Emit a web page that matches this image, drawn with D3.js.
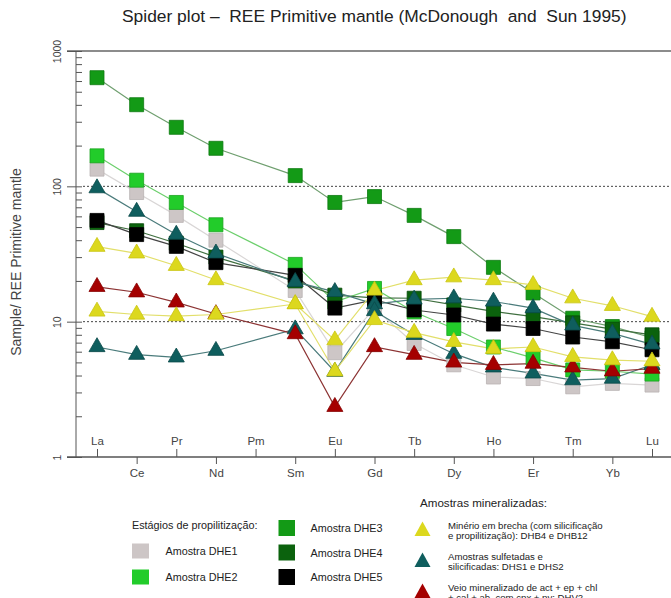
<!DOCTYPE html>
<html>
<head>
<meta charset="utf-8">
<script src="https://cdn.jsdelivr.net/npm/d3@7"></script>
<style>
  body { margin: 0; background: #fff; }
  svg { display: block; font-family: "Liberation Sans", Arial, sans-serif; }
</style>
</head>
<body>
<svg width="671" height="598"></svg>
<script>
// elements along the x axis (Pm has no data)
const elements = ["La", "Ce", "Pr", "Nd", "Pm", "Sm", "Eu", "Gd", "Tb", "Dy", "Ho", "Er", "Tm", "Yb", "Lu"];
const yTicks = [1, 10, 100, 1000];

// normalised values
const DHE1 = [134, 90, 61, 40, null, 17, 5.9, 12.5, 6.9, 4.8, 3.9, 3.8, 3.3, 3.5, 3.4];
const DHE2 = [168, 111, 76, 52, null, 26.5, 14, 17.6, 11.8, 8.9, 6.5, 5.4, 4.4, 4.3, 4.1];
const DHE3 = [635, 401, 273, 191, null, 120, 76, 84, 61, 42.5, 25.2, 16.3, 10.6, 9.2, 7.6];
const DHE4 = [54, 47, 38, 30, null, 20, 15.7, 15, 14.9, 13.3, 11.9, 10.9, 9.8, 8.8, 8.0];
const DHE5 = [56, 44, 36, 27.3, null, 22, 12.6, 14.5, 12.2, 11.2, 9.6, 8.9, 7.7, 7.1, 6.2];
const DHB4 = [35.8, 32, 25.9, 20.3, null, 13.5, 7.3, 17, 20.3, 21.3, 20.3, 18.7, 14.9, 13.1, 10.9];
const DHB12 = [11.9, 11.3, 11.0, 11.3, null, 13.5, 4.3, 10.3, 8.3, 7.1, 6.3, 6.5, 5.5, 5.2, 5.1];
const DHS1 = [97, 65, 44, 32, null, 19.7, 16.6, 13.5, 14.6, 14.9, 14.1, 12.6, 9.4, 8.2, 6.8];
const DHS2 = [6.5, 5.7, 5.45, 6.1, null, 8.8, 4.27, 12, 8.0, 5.8, 4.6, 4.15, 3.7, 3.8, 4.8];
const DHV2 = [18.1, 16.5, 13.9, 11.4, null, 8.1, 2.35, 6.5, 5.7, 5.0, 4.8, 4.9, 4.6, 4.3, 4.5];

// legend texts
const legendLeft = ["Amostra DHE1", "Amostra DHE2"];
const legendMid = ["Amostra DHE3", "Amostra DHE4", "Amostra DHE5"];
const legendRight = [
  ["Minério em brecha (com silicificação", "e propilitização): DHB4 e DHB12"],
  ["Amostras sulfetadas e", "silicificadas: DHS1 e DHS2"],
  ["Veio mineralizado de act + ep + chl", "+ cal + ab, com cpx + py: DHV2"]
];

const style = {
  grey:   { fill: "#cdc6c6", stroke: "#b9b3b3", line: "#d9d6d6" },
  lime:   { fill: "#22cc2a", stroke: "#1aa31f", line: "#6ccf6c" },
  green:  { fill: "#139a16", stroke: "#0d7a10", line: "#6f9f6f" },
  dark:   { fill: "#0b620d", stroke: "#064a08", line: "#3f6f3f" },
  black:  { fill: "#000000", stroke: "#000000", line: "#444444" },
  yellow: { fill: "#dcd81e", stroke: "#c9c510", line: "#e2df6a" },
  teal:   { fill: "#0f5e5e", stroke: "#0a4a4a", line: "#4a7b7b" },
  red:    { fill: "#a50000", stroke: "#850000", line: "#8c3333" }
};

// draw order: squares first, then triangles
const series = [
  { name: "DHE1", values: DHE1, shape: "square", s: style.grey },
  { name: "DHE2", values: DHE2, shape: "square", s: style.lime },
  { name: "DHE3", values: DHE3, shape: "square", s: style.green },
  { name: "DHE4", values: DHE4, shape: "square", s: style.dark },
  { name: "DHE5", values: DHE5, shape: "square", s: style.black },
  { name: "DHS1", values: DHS1, shape: "triangle", s: style.teal },
  { name: "DHS2", values: DHS2, shape: "triangle", s: style.teal },
  { name: "DHV2", values: DHV2, shape: "triangle", s: style.red },
  { name: "DHB4", values: DHB4, shape: "triangle", s: style.yellow },
  { name: "DHB12", values: DHB12, shape: "triangle", s: style.yellow }
];

const svg = d3.select("svg");
const axisX = 76, plotTop = 51, plotBottom = 457, plotRight = 673;

const x = d3.scalePoint().domain(elements).range([97, 652]);
const y = d3.scaleLog().domain([1, 1000]).range([plotBottom, plotTop]);

// title
svg.append("text")
  .attr("x", 122).attr("y", 22)
  .attr("font-size", 17.4).attr("fill", "#222")
  .style("white-space", "pre")
  .text("Spider plot \u2013  REE Primitive mantle (McDonough  and  Sun 1995)");

// y title
svg.append("text")
  .attr("transform", `translate(21, 262) rotate(-90)`)
  .attr("text-anchor", "middle")
  .attr("font-size", 14).attr("fill", "#444")
  .text("Sample/ REE Primitive mantle");

// top line and dotted reference lines
svg.append("line")
  .attr("x1", 67).attr("x2", plotRight).attr("y1", y(1000)).attr("y2", y(1000))
  .attr("stroke", "#666").attr("stroke-width", 1.3);
svg.selectAll(".ref").data([10, 100]).enter().append("line")
  .attr("x1", 83).attr("x2", plotRight)
  .attr("y1", (d) => y(d)).attr("y2", (d) => y(d))
  .attr("stroke", "#444").attr("stroke-width", 1).attr("stroke-dasharray", "2,2");

// y axis: major ticks outward, all ticks inward
const minor = [];
[1, 10, 100].forEach((d) => { for (let k = 2; k <= 9; k++) minor.push(d * k); });

const yMajor = svg.append("g").attr("transform", `translate(${axisX},0)`)
  .call(d3.axisLeft(y).tickValues(yTicks).tickSize(9).tickFormat(d3.format("d")));
yMajor.selectAll("text")
  .attr("transform", "rotate(-90)")
  .attr("x", 0).attr("y", -15).attr("dy", null)
  .attr("text-anchor", "middle")
  .attr("font-size", 10.5).attr("fill", "#444").attr("font-family", null);

const yMinor = svg.append("g").attr("transform", `translate(${axisX},0)`)
  .call(d3.axisRight(y).tickValues(yTicks.concat(minor)).tickSize(6).tickFormat(""));
[yMajor, yMinor].forEach((g) => {
  g.selectAll("line").attr("stroke", "#555");
  g.select(".domain").attr("stroke", "#555");
});
yMinor.select(".domain").attr("d", `M0,${plotTop}V${plotBottom}`);
yMajor.select(".domain").remove();

// x axis: alternating labels above and below
const upper = elements.filter((d, i) => i % 2 === 0);
const lower = elements.filter((d, i) => i % 2 === 1);

svg.append("line")
  .attr("x1", 67).attr("x2", plotRight).attr("y1", plotBottom).attr("y2", plotBottom)
  .attr("stroke", "#555").attr("stroke-width", 1.3);

const xUp = svg.append("g").attr("transform", `translate(0,${plotBottom})`)
  .call(d3.axisTop(x).tickValues(upper).tickSize(8).tickPadding(4));
const xDown = svg.append("g").attr("transform", `translate(0,${plotBottom})`)
  .call(d3.axisBottom(x).tickValues(lower).tickSize(7).tickPadding(5));
[xUp, xDown].forEach((g) => {
  g.select(".domain").remove();
  g.selectAll("line").attr("stroke", "#555");
  g.selectAll("text").attr("font-size", 11.5).attr("fill", "#444").attr("font-family", null);
});

// lines
const line = d3.line()
  .x((d) => x(d.el))
  .y((d) => y(d.v));

const pts = (s) => elements
  .map((el, i) => ({ el, v: s.values[i] }))
  .filter((d) => d.v != null);

svg.append("g").selectAll("path").data(series).enter().append("path")
  .attr("d", (s) => line(pts(s)))
  .attr("fill", "none")
  .attr("stroke", (s) => s.s.line)
  .attr("stroke-width", 1.2);

// markers
const squareSym = d3.symbol(d3.symbolSquare, 196);
const triSym = d3.symbol(d3.symbolTriangle, 112);

series.forEach((s) => {
  svg.append("g").selectAll("path").data(pts(s)).enter().append("path")
    .attr("transform", (d) => `translate(${x(d.el)},${y(d.v)})`)
    .attr("d", s.shape === "square" ? squareSym : triSym)
    .attr("fill", s.s.fill)
    .attr("stroke", s.s.stroke)
    .attr("stroke-width", 0.8);
});

// legend
const lg = svg.append("g").attr("fill", "#222");

lg.append("text").attr("x", 132).attr("y", 529).attr("font-size", 10.8)
  .text("Estágios de propilitização:");

const leftStyles = [style.grey, style.lime];
legendLeft.forEach((t, i) => {
  const cy = 551 + i * 26;
  lg.append("rect").attr("x", 132).attr("y", cy - 7.5).attr("width", 17).attr("height", 15)
    .attr("fill", leftStyles[i].fill);
  lg.append("text").attr("x", 165.5).attr("y", cy + 4).attr("font-size", 10.8).text(t);
});

const midStyles = [style.green, style.dark, style.black];
legendMid.forEach((t, i) => {
  const cy = 528 + i * 24.5;
  lg.append("rect").attr("x", 278.5).attr("y", cy - 8).attr("width", 16.5).attr("height", 16)
    .attr("fill", midStyles[i].fill);
  lg.append("text").attr("x", 310.5).attr("y", cy + 4).attr("font-size", 10.8).text(t);
});

lg.append("text").attr("x", 420).attr("y", 507).attr("font-size", 11.6)
  .text("Amostras mineralizadas:");

const rightStyles = [style.yellow, style.teal, style.red];
legendRight.forEach((lines, i) => {
  const cy = 529 + i * 31;
  lg.append("path")
    .attr("d", `M422.5,${cy - 7.5}L430.5,${cy + 7}L414.5,${cy + 7}Z`)
    .attr("fill", rightStyles[i].fill);
  lines.forEach((t, j) => {
    lg.append("text").attr("x", 448).attr("y", cy - 0.5 + j * 10)
      .attr("font-size", 9.6).text(t);
  });
});
</script>
</body>
</html>
